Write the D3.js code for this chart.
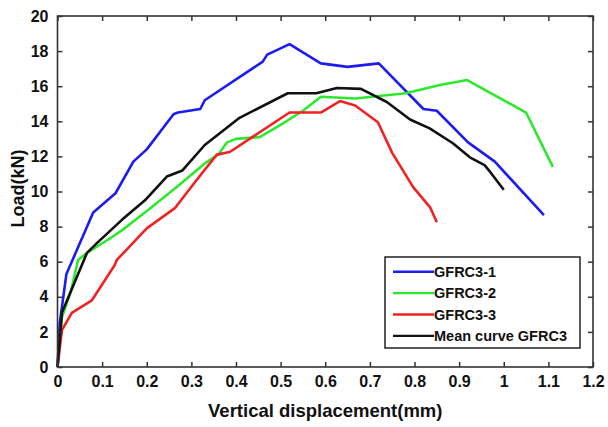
<!DOCTYPE html>
<html>
<head>
<meta charset="utf-8">
<script src="https://cdn.jsdelivr.net/npm/d3@7"></script>
<style>
  body { margin: 0; background: #fff; }
  text { font-family: "Liberation Sans", Arial, sans-serif; font-weight: bold; fill: #111; }
</style>
</head>
<body>
<svg id="chart" width="608" height="427"></svg>
<script>
// displacement (mm) / load (kN)
const gfrc1X = [0, 0.005, 0.02, 0.08, 0.13, 0.17, 0.2, 0.26, 0.27, 0.32, 0.33, 0.46, 0.47, 0.52, 0.59, 0.65, 0.72, 0.82, 0.85, 0.92, 0.98, 1.09];
const gfrc1Y = [0, 2.5, 5.3, 8.8, 9.9, 11.7, 12.4, 14.4, 14.5, 14.7, 15.2, 17.4, 17.8, 18.4, 17.3, 17.1, 17.3, 14.7, 14.6, 12.8, 11.7, 8.65];

const gfrc2X = [0, 0.01, 0.03, 0.046, 0.066, 0.113, 0.145, 0.203, 0.274, 0.33, 0.36, 0.38, 0.4, 0.453, 0.5, 0.55, 0.59, 0.667, 0.78, 0.857, 0.918, 1.05, 1.11];
const gfrc2Y = [0, 2.85, 4.3, 6.1, 6.5, 7.25, 7.8, 8.95, 10.4, 11.6, 12.1, 12.8, 13.0, 13.1, 13.8, 14.6, 15.4, 15.3, 15.6, 16.07, 16.35, 14.5, 11.4];

const gfrc3X = [0, 0.01, 0.032, 0.077, 0.128, 0.133, 0.2, 0.263, 0.31, 0.357, 0.386, 0.52, 0.59, 0.633, 0.667, 0.718, 0.75, 0.797, 0.835, 0.85];
const gfrc3Y = [0, 2.1, 3.08, 3.8, 5.8, 6.1, 7.9, 9.05, 10.6, 12.1, 12.25, 14.5, 14.5, 15.15, 14.9, 13.95, 12.2, 10.25, 9.1, 8.25];

const meanX = [0, 0.01, 0.066, 0.09, 0.145, 0.196, 0.245, 0.28, 0.33, 0.408, 0.516, 0.58, 0.626, 0.68, 0.738, 0.79, 0.834, 0.886, 0.924, 0.957, 0.97, 1.0];
const meanY = [0, 3.1, 6.5, 7.1, 8.4, 9.5, 10.85, 11.2, 12.65, 14.2, 15.6, 15.6, 15.9, 15.85, 15.1, 14.1, 13.6, 12.75, 11.95, 11.5, 11.1, 10.1];

const seriesNames = ["GFRC3-1", "GFRC3-2", "GFRC3-3", "Mean curve GFRC3"];
const seriesColors = ["#1c1cf0", "#2ee82e", "#f02222", "#111111"];
const xTicks = [0, 0.1, 0.2, 0.3, 0.4, 0.5, 0.6, 0.7, 0.8, 0.9, 1, 1.1, 1.2];
const yTicks = [0, 2, 4, 6, 8, 10, 12, 14, 16, 18, 20];

const series = [
  { name: seriesNames[0], color: seriesColors[0], pts: d3.zip(gfrc1X, gfrc1Y) },
  { name: seriesNames[1], color: seriesColors[1], pts: d3.zip(gfrc2X, gfrc2Y) },
  { name: seriesNames[2], color: seriesColors[2], pts: d3.zip(gfrc3X, gfrc3Y) },
  { name: seriesNames[3], color: seriesColors[3], pts: d3.zip(meanX, meanY) }
];

const svg = d3.select("#chart");
const plot = { left: 57.5, right: 593, top: 16, bottom: 367 };

const x = d3.scaleLinear().domain([0, 1.2]).range([plot.left, plot.right]);
const y = d3.scaleLinear().domain([0, 20]).range([plot.bottom, plot.top]);

// curves first, frame drawn on top
const line = d3.line().x(d => x(d[0])).y(d => y(d[1]));
svg.append("g").selectAll("path").data(series).enter().append("path")
  .attr("d", d => line(d.pts))
  .attr("fill", "none")
  .attr("stroke", d => d.color)
  .attr("stroke-width", 2.6)
  .attr("stroke-linejoin", "round");

const axisCol = "#333";
const tickLen = 5;

// box + inward ticks on all four sides
svg.append("rect")
  .attr("x", plot.left).attr("y", plot.top)
  .attr("width", plot.right - plot.left).attr("height", plot.bottom - plot.top)
  .attr("fill", "none").attr("stroke", axisCol).attr("stroke-width", 1.6);

const xAxisB = d3.axisBottom(x).tickValues(xTicks).tickSizeInner(-tickLen).tickSizeOuter(0).tickFormat(d3.format("~g")).tickPadding(9);
const gxb = svg.append("g").attr("transform", `translate(0,${plot.bottom})`).call(xAxisB);
const xAxisT = d3.axisTop(x).tickValues(xTicks).tickSizeInner(-tickLen).tickSizeOuter(0).tickFormat("");
const gxt = svg.append("g").attr("transform", `translate(0,${plot.top})`).call(xAxisT);
const yAxisL = d3.axisLeft(y).tickValues(yTicks).tickSizeInner(-tickLen).tickSizeOuter(0).tickPadding(9);
const gyl = svg.append("g").attr("transform", `translate(${plot.left},0)`).call(yAxisL);
const yAxisR = d3.axisRight(y).tickValues(yTicks).tickSizeInner(-tickLen).tickSizeOuter(0).tickFormat("");
const gyr = svg.append("g").attr("transform", `translate(${plot.right},0)`).call(yAxisR);

[gxb, gxt, gyl, gyr].forEach(g => {
  g.select(".domain").remove();
  g.selectAll(".tick line").attr("stroke", axisCol).attr("stroke-width", 1.5);
  g.selectAll(".tick text").style("font-size", "16px").style("font-family", "Liberation Sans, Arial, sans-serif").style("font-weight", "bold").attr("fill", "#111");
});

// axis titles
svg.append("text")
  .attr("x", (plot.left + plot.right) / 2).attr("y", 417)
  .attr("text-anchor", "middle")
  .style("font-size", "18.5px")
  .text("Vertical displacement(mm)");

svg.append("text")
  .attr("transform", `translate(24,${(plot.top + plot.bottom) / 2 - 3}) rotate(-90)`)
  .attr("text-anchor", "middle")
  .style("font-size", "18px")
  .text("Load(kN)");

// legend
const lg = svg.append("g").attr("transform", "translate(385,257)");
lg.append("rect")
  .attr("width", 195).attr("height", 91)
  .attr("fill", "#fff").attr("stroke", "#222").attr("stroke-width", 1.5);

const items = lg.selectAll(".legend").data(series).enter().append("g")
  .attr("class", "legend")
  .attr("transform", (d, i) => `translate(0,${14.7 + i * 21.4})`);
items.append("line")
  .attr("x1", 8).attr("x2", 49)
  .attr("stroke", d => d.color).attr("stroke-width", 2.4);
items.append("text")
  .attr("x", 49).attr("y", 5)
  .style("font-size", "14.5px")
  .text(d => d.name);
</script>
</body>
</html>
